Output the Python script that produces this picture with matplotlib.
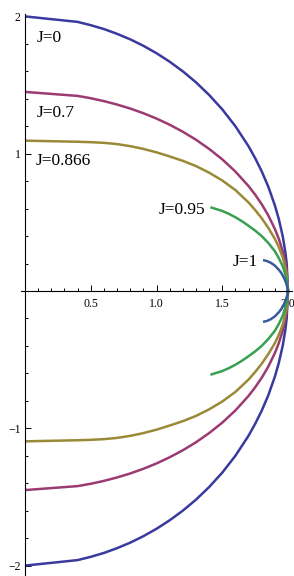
import numpy as np
from matplotlib import pyplot as plt

# upper half of each curve (lower half is its mirror image)
x_j0 = [0.0, 0.4, 0.5, 0.6, 0.7, 0.8, 0.9, 1.0, 1.1, 1.2, 1.3, 1.4, 1.5, 1.6, 1.7,
        1.75, 1.8, 1.85, 1.9, 1.93, 1.96, 1.98, 1.99, 2.0]
y_j0 = [2.0, 1.96, 1.936, 1.908, 1.873, 1.833, 1.786, 1.732, 1.670, 1.6, 1.520, 1.428,
        1.323, 1.2, 1.054, 0.968, 0.872, 0.760, 0.624, 0.524, 0.398, 0.282, 0.2, 0.0]

x_j07 = [0.0, 0.4, 0.5, 0.6, 0.7, 0.8, 0.9, 1.0, 1.1, 1.2, 1.3, 1.4, 1.5, 1.6, 1.7,
         1.75, 1.8, 1.85, 1.9, 1.93, 1.96, 1.98, 1.99, 2.0]
y_j07 = [1.45, 1.421, 1.404, 1.383, 1.358, 1.329, 1.295, 1.256, 1.211, 1.16, 1.102, 1.035,
         0.959, 0.87, 0.764, 0.702, 0.632, 0.551, 0.452, 0.380, 0.289, 0.204, 0.145, 0.0]

x_j0866 = [0.0, 0.4, 0.5, 0.6, 0.7, 0.8, 0.9, 1.0, 1.1, 1.2, 1.3, 1.4, 1.5, 1.6, 1.7,
           1.75, 1.8, 1.85, 1.9, 1.93, 1.96, 1.98, 1.99, 2.0]
y_j0866 = [1.095, 1.087, 1.084, 1.079, 1.07, 1.055, 1.035, 1.01, 0.98, 0.948, 0.91, 0.862,
           0.805, 0.735, 0.645, 0.59, 0.53, 0.46, 0.38, 0.32, 0.245, 0.17, 0.12, 0.0]

x_j095 = [1.41, 1.45, 1.5, 1.55, 1.6, 1.65, 1.7, 1.75, 1.8, 1.85, 1.9, 1.93, 1.96, 1.98, 1.99, 2.0]
y_j095 = [0.61, 0.598, 0.583, 0.562, 0.537, 0.508, 0.475, 0.44, 0.40, 0.35, 0.29, 0.24,
          0.18, 0.12, 0.08, 0.0]

x_j1 = [1.81, 1.84, 1.87, 1.9, 1.93, 1.95, 1.97, 1.985, 1.995, 2.0]
y_j1 = [0.225, 0.218, 0.205, 0.185, 0.155, 0.13, 0.095, 0.06, 0.03, 0.0]

labels = ["J=0", "J=0.7", "J=0.866", "J=0.95", "J=1"]
colors = ["#3a3a9e", "#9c3a72", "#9a8a38", "#38a052", "#3a5a9e"]

plt.rcParams["font.family"] = ["Liberation Serif", "DejaVu Serif"]
fig = plt.figure(figsize=(2.94, 5.76), dpi=100)
ax = fig.add_axes([21/294, 0, 271/294, 562/576])

series = [(x_j0, y_j0), (x_j07, y_j07), (x_j0866, y_j0866), (x_j095, y_j095), (x_j1, y_j1)]
for (xs, ys), c in zip(series, colors):
    xs = np.array(xs)
    ys = np.array(ys)
    ax.plot(np.concatenate([xs, xs[::-1]]), np.concatenate([ys, -ys[::-1]]),
            color=c, lw=1.8, solid_capstyle="butt", solid_joinstyle="round")

ax.text(0.09, 1.84, labels[0], fontsize=12.5, va="center", ha="left")
ax.text(0.09, 1.30, labels[1], fontsize=12.5, va="center", ha="left")
ax.text(0.08, 0.947, labels[2], fontsize=12.5, va="center", ha="left")
ax.text(1.37, 0.59, labels[3], fontsize=12.5, va="center", ha="right")
ax.text(1.77, 0.21, labels[4], fontsize=12.5, va="center", ha="right")

ax.set_xlim(-4/131.5, 2 + 4/131.5)
ax.set_ylim(-285/137.3, 277/137.3)

for s in ["top", "right"]:
    ax.spines[s].set_visible(False)
ax.spines["left"].set_position(("data", 0))
ax.spines["bottom"].set_position(("data", 0))
for s in ["left", "bottom"]:
    ax.spines[s].set_linewidth(0.8)

ax.set_xticks([0.5, 1.0, 1.5, 2.0])
ax.set_xticklabels(["0.5", "1.0", "1.5", "2.0"])
ax.set_xticks(np.arange(0.1, 2.01, 0.1), minor=True)
ax.set_yticks([-2, -1, 1, 2])
ax.set_yticklabels(["\u22122", "\u22121", "1", "2"])
ax.set_yticks(np.arange(-2.0, 2.01, 0.2), minor=True)
ax.tick_params(which="both", direction="in", width=0.7, labelsize=8.5)
ax.tick_params(which="major", length=4)
ax.tick_params(which="minor", length=2)
ax.tick_params(axis="x", pad=5)
ax.tick_params(axis="y", pad=3)
ax.patch.set_visible(False)

plt.savefig("out.png", dpi=100)
